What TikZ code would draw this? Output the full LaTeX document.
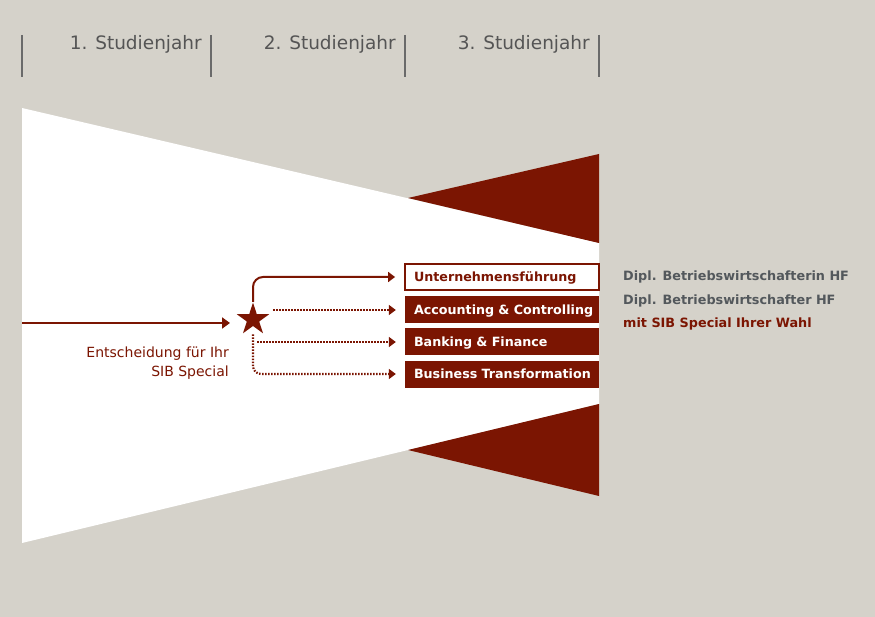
\documentclass[tikz,border=0pt]{standalone}
\usepackage{fontspec}
\setmainfont{DejaVu Sans}
\usetikzlibrary{shapes.geometric,arrows.meta}
\definecolor{bg}{HTML}{D5D2CA}
\definecolor{sibred}{HTML}{7B1502}
\definecolor{gtext}{HTML}{53585C}
\definecolor{hline}{HTML}{6A6A6A}
\definecolor{htext}{HTML}{555555}
\begin{document}
\begin{tikzpicture}[x=1pt,y=-1pt,
  hdr/.style={font=\fontsize{18.5}{22}\selectfont, text=htext, anchor=base east, inner sep=0pt},
  sepline/.style={draw=hline, line width=1.6pt},
  box/.style={fill=sibred, text=white, font=\bfseries\fontsize{12.7}{15}\selectfont,
    minimum height=27pt, text width=176pt, inner xsep=9pt, inner ysep=0pt,
    text height=9pt, text depth=0pt, align=left},
  obox/.style={box, fill=white, draw=sibred, line width=1.8pt, text=sibred, minimum height=26pt},
  conn/.style={draw=sibred, line width=2pt, -{Triangle[width=10pt,length=7pt]}},
  dconn/.style={conn, line width=2.2pt, dash pattern=on 1.5pt off 1.5pt},
  lbl/.style={inner sep=0pt, font=\bfseries\fontsize{12.8}{15}\selectfont},
  note/.style={inner sep=0pt, text=sibred, anchor=base east, font=\fontsize{14}{19}\selectfont}]
\useasboundingbox (0,0) rectangle (875,617);
\fill[bg] (0,0) rectangle (875,617);
% header
\foreach \x in {22,211,405,599} \draw[sepline] (\x,35) -- (\x,77);
\node[hdr] (h1) at (202,50) {1. Studienjahr};
\node[hdr] (h2) at (396,50) {2. Studienjahr};
\node[hdr] (h3) at (590,50) {3. Studienjahr};
% funnel
\fill[white] (22,108) -- (599,243) -- (599,404) -- (22,543) -- cycle;
\fill[sibred] (408,198) -- (599,154) -- (599,243) -- cycle;
\fill[sibred] (408,450) -- (599,404) -- (599,496) -- cycle;
% boxes
\node[obox] (u) at (502,277) {\mbox{Unternehmensführung}};
\node[box] (a) at (502,310) {\mbox{Accounting \& Controlling}};
\node[box] (b) at (502,342) {\mbox{Banking \& Finance}};
\node[box] (t) at (502,374) {\mbox{Business Transformation}};
% star
\node[star, star points=5, star point ratio=2.618, minimum size=34pt, inner sep=0pt, fill=sibred] (s) at (253,319.5) {};
% input arrow
\coordinate (src) at (22,323);
\coordinate (tipin) at (230,323);
\draw[conn, -{Triangle[width=11pt,length=8pt]}] (src) -- (tipin);
\node[note] (e1) at (229,357) {Entscheidung für Ihr};
\node[note] (e2) at (229,376.5) {SIB Special};
% branches
\draw[conn, rounded corners=10pt] (s.north) |- ([xshift=-9pt]u.west);
\draw[dconn] ([xshift=20pt]s.center |- a.west) -- ([xshift=-9pt]a.west);
\draw[dconn] ([xshift=4pt]s.center |- b.west) -- ([xshift=-9pt]b.west);
\draw[dconn, rounded corners=8pt] ([yshift=-15pt]s.center) |- ([xshift=-9pt]t.west);
% right text
\node[lbl, text=gtext, anchor=base west] (d1) at (623,281) {Dipl. Betriebswirtschafterin HF};
\node[lbl, text=gtext, anchor=base west] (d2) at (623,304.5) {Dipl. Betriebswirtschafter HF};
\node[lbl, text=sibred, anchor=base west] (d3) at (623,328) {mit SIB Special Ihrer Wahl};
\end{tikzpicture}
\end{document}
